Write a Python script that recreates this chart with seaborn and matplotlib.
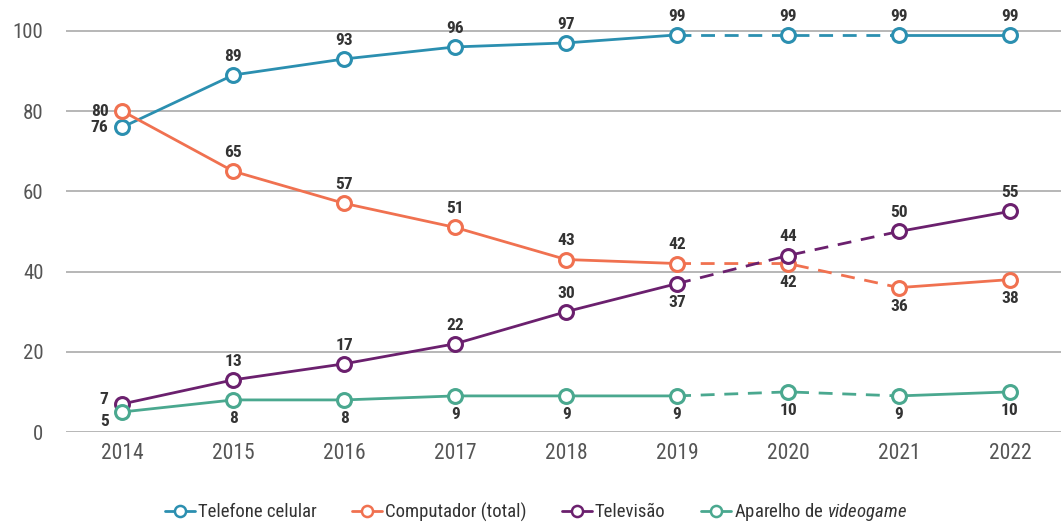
import numpy as np
import pandas as pd
import matplotlib
matplotlib.use("Agg")
import matplotlib.pyplot as plt
from matplotlib.lines import Line2D
from matplotlib import font_manager
import seaborn as sns

anos = [2014, 2015, 2016, 2017, 2018, 2019, 2020, 2021, 2022]
telefone = [76, 89, 93, 96, 97, 99, 99, 99, 99]
computador = [80, 65, 57, 51, 43, 42, 42, 36, 38]
televisao = [7, 13, 17, 22, 30, 37, 44, 50, 55]
videogame = [5, 8, 8, 9, 9, 9, 10, 9, 10]

nomes = ["Telefone celular", "Computador (total)", "Televisão", "Aparelho de videogame"]
cores = ["#2b8fb0", "#f07150", "#6b206e", "#4aa88f"]

# posição dos rótulos: l = esquerda, lb = esquerda abaixo, a = acima, b = abaixo
pos_rotulos = [
    ["l", "a", "a", "a", "a", "a", "a", "a", "a"],
    ["l", "a", "a", "a", "a", "a", "b", "b", "b"],
    ["l", "a", "a", "a", "a", "b", "a", "a", "a"],
    ["lb", "b", "b", "b", "b", "b", "b", "b", "b"],
]

sns.set_style("white")
nomes_fontes = {f.name for f in font_manager.fontManager.ttflist}
fonte = "Roboto"
for cand in ["Roboto Condensed", "Liberation Sans Narrow"]:
    if cand in nomes_fontes:
        fonte = cand
        break
plt.rcParams["font.family"] = [fonte, "DejaVu Sans"]
plt.rcParams["mathtext.fontset"] = "custom"
plt.rcParams["mathtext.it"] = fonte + ":italic"
plt.rcParams["mathtext.rm"] = fonte

df = pd.DataFrame({"ano": anos * 4,
                   "valor": telefone + computador + televisao + videogame,
                   "serie": np.repeat(nomes, len(anos))})

fig = plt.figure(figsize=(10.61, 5.22), dpi=100)
ax = fig.add_axes([0.062, 0.1724, 0.938, 0.8276])

for nome, cor in zip(nomes, cores):
    d = df[df.serie == nome]
    seg1 = d[d.ano <= 2019]
    seg2 = d[(d.ano >= 2019) & (d.ano <= 2021)]
    seg3 = d[d.ano >= 2021]
    for seg, estilo in [(seg1, "-"), (seg2, (0, (5, 3.5))), (seg3, "-")]:
        sns.lineplot(data=seg, x="ano", y="valor", color=cor, lw=2,
                     linestyle=estilo, ax=ax, legend=False, zorder=2)
    sns.scatterplot(data=d, x="ano", y="valor", s=100, facecolor="white",
                    edgecolor=cor, linewidth=2.2, ax=ax, legend=False, zorder=3)

offsets = {"l": ((-10, 0), "right", "center"),
           "lb": ((-10, -7), "right", "center"),
           "a": ((0, 8), "center", "bottom"),
           "b": ((0, -8), "center", "top")}
for serie, pos in zip([telefone, computador, televisao, videogame], pos_rotulos):
    for ano, v, p in zip(anos, serie, pos):
        off, ha, va = offsets[p]
        if p == "l" and v == 7:
            off = (-10, 3)
        ax.annotate(str(v), (ano, v), xytext=off, textcoords="offset points",
                    ha=ha, va=va, fontsize=12.5, fontweight="bold", color="#333333")

ax.set_xlim(2013.49, 2022.46)
ax.set_ylim(0, 107.7)
ax.set_yticks([0, 20, 40, 60, 80, 100])
ax.set_xticks(anos)
ax.set_xticks([a + 0.5 for a in anos[:-1]], minor=True)
ax.grid(axis="y", color="#aaaaaa", lw=1.2, zorder=0)
ax.set_axisbelow(True)
for s in ["top", "right", "left", "bottom"]:
    ax.spines[s].set_visible(False)
ax.tick_params(axis="y", length=0, pad=16, labelsize=15, labelcolor="#555555")
ax.tick_params(axis="x", which="major", length=0, pad=8, labelsize=15.5, labelcolor="#555555")
ax.tick_params(axis="x", which="minor", length=14, width=1.2, color="#aaaaaa")
ax.set_xlabel("")
ax.set_ylabel("")

rotulos_leg = ["Telefone celular", "Computador (total)", "Televisão", r"Aparelho de $\it{videogame}$"]
handles = [Line2D([0], [0], color=c, lw=2, marker="o", markersize=8, markerfacecolor="white",
                  markeredgewidth=1.8) for c in cores]
fig.legend(handles, rotulos_leg, loc="lower center", bbox_to_anchor=(0.505, -0.035), ncol=4,
           frameon=False, fontsize=13.5, handlelength=1.6, handletextpad=0.15, columnspacing=1.9,
           labelcolor="#333333")

fig.savefig("out.png", dpi=100)
